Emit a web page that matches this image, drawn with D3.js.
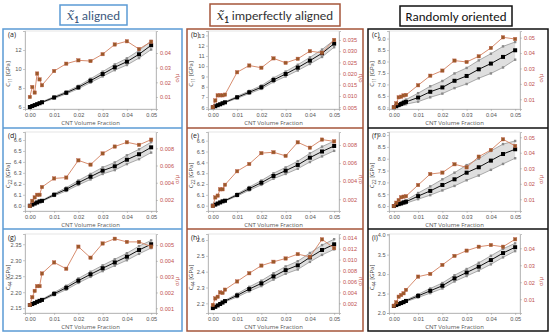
<!DOCTYPE html>
<html><head><meta charset="utf-8">
<script src="https://cdn.jsdelivr.net/npm/d3@7"></script>
<style>
html,body{margin:0;padding:0;background:#fff;}
svg{display:block;font-family:"Open Sans","Liberation Sans",Arial,sans-serif;}
</style></head>
<body>
<svg id="c" width="550" height="334"></svg>
<script>
// ---------- data ----------
const xVals = [0,0.001,0.002,0.003,0.004,0.005,0.01,0.015,0.02,0.025,0.03,0.035,0.04,0.045,0.05];
const xTicks = [0,0.01,0.02,0.03,0.04,0.05];
const columnTitles = ["aligned","imperfectly aligned","Randomly oriented"];
const panelLabels = ["(a)","(b)","(c)","(d)","(e)","(f)","(g)","(h)","(i)"];
const yLabelSubs = ["11","22","44"];
const xAxisTitle = "CNT Volume Fraction";
const rightTitle = "σ/μ";

// (a) C11, aligned
const meanA  = [6.0,6.1,6.2,6.3,6.4,6.5,7.0,7.5,8.07,8.77,9.47,10.18,10.77,11.55,12.5];
const upperA = [6.0,6.11,6.22,6.33,6.44,6.55,7.1,7.62,8.22,8.97,9.72,10.48,11.12,11.95,12.95];
const lowerA = [6.0,6.09,6.18,6.27,6.36,6.45,6.9,7.38,7.92,8.57,9.22,9.88,10.42,11.15,12.05];
const ratioA = [0.0100,0.0168,0.0130,0.0260,0.0220,0.0180,0.0277,0.0327,0.0350,0.0345,0.0392,0.0458,0.0480,0.0427,0.0477];
// (b) C11, imperfectly aligned
const meanB  = [6.0,6.1,6.2,6.29,6.39,6.48,6.97,7.46,7.95,8.66,9.24,9.86,10.54,11.26,12.2];
const upperB = [6.0,6.11,6.22,6.32,6.43,6.53,7.07,7.59,8.11,8.86,9.48,10.14,10.86,11.62,12.55];
const lowerB = [6.0,6.09,6.18,6.26,6.35,6.43,6.87,7.33,7.79,8.46,9.0,9.58,10.22,10.9,11.85];
const ratioB = [0.0050,0.0080,0.0103,0.0103,0.0103,0.0106,0.0206,0.0236,0.0226,0.0268,0.0248,0.0266,0.0300,0.0293,0.0350];
// (c) C11, random
const meanC  = [6.0,6.05,6.1,6.15,6.2,6.24,6.43,6.68,6.87,7.16,7.37,7.66,7.91,8.2,8.49];
const upperC = [6.0,6.07,6.14,6.21,6.28,6.34,6.62,6.92,7.15,7.48,7.72,8.05,8.34,8.66,8.85];
const lowerC = [6.0,6.03,6.06,6.09,6.12,6.14,6.25,6.44,6.6,6.84,7.02,7.27,7.48,7.74,8.08];
const ratioC = [0.0048,0.0074,0.0113,0.0117,0.0125,0.0128,0.0191,0.0253,0.0286,0.0351,0.0342,0.0379,0.0433,0.0502,0.0491];
// (d) C22, aligned
const meanD  = [6.0,6.01,6.02,6.03,6.04,6.045,6.1,6.15,6.21,6.265,6.32,6.36,6.42,6.47,6.533];
const upperD = [6.0,6.011,6.022,6.033,6.044,6.05,6.11,6.165,6.23,6.29,6.35,6.395,6.46,6.515,6.58];
const lowerD = [6.0,6.009,6.018,6.027,6.036,6.04,6.09,6.135,6.19,6.24,6.29,6.325,6.38,6.425,6.485];
const ratioD = [0.0013,0.0019,0.0023,0.0026,0.0026,0.0035,0.0045,0.0046,0.0066,0.0061,0.0074,0.0082,0.0087,0.0084,0.0090];
// (e) C22, imperfectly aligned
const meanE  = [6.0,6.01,6.02,6.03,6.04,6.046,6.099,6.157,6.212,6.274,6.323,6.376,6.443,6.5,6.551];
const upperE = [6.0,6.011,6.022,6.033,6.044,6.051,6.109,6.172,6.232,6.299,6.353,6.411,6.483,6.545,6.596];
const lowerE = [6.0,6.009,6.018,6.027,6.036,6.041,6.089,6.142,6.192,6.249,6.293,6.341,6.403,6.455,6.506];
const ratioE = [0.00126,0.0022,0.0024,0.0031,0.0031,0.0036,0.0051,0.0059,0.0071,0.0072,0.0068,0.0083,0.0077,0.0086,0.0084];
// (f) C22, random
const meanF  = [6.0,6.04,6.08,6.11,6.15,6.18,6.42,6.64,6.89,7.13,7.41,7.64,7.92,8.2,8.4];
const upperF = [6.0,6.05,6.1,6.15,6.2,6.24,6.55,6.83,7.13,7.41,7.73,8.0,8.33,8.62,8.75];
const lowerF = [6.0,6.03,6.06,6.08,6.1,6.12,6.29,6.46,6.66,6.85,7.09,7.29,7.53,7.78,8.02];
const ratioF = [0.0057,0.0078,0.0095,0.0113,0.0117,0.0120,0.0192,0.0263,0.0272,0.0326,0.0306,0.0375,0.0418,0.0487,0.0444];
// (g) C44, aligned
const meanG  = [2.16,2.163,2.166,2.17,2.173,2.176,2.195,2.214,2.236,2.256,2.275,2.293,2.311,2.332,2.35];
const upperG = [2.16,2.1635,2.167,2.171,2.1745,2.178,2.199,2.22,2.243,2.264,2.284,2.303,2.322,2.344,2.362];
const lowerG = [2.16,2.1625,2.165,2.169,2.1715,2.174,2.191,2.208,2.229,2.248,2.266,2.283,2.3,2.32,2.338];
const ratioG = [0.0012,0.0017,0.0021,0.0024,0.0024,0.0032,0.0039,0.0035,0.0049,0.0042,0.0051,0.0054,0.0052,0.0052,0.0049];
// (h) C44, imperfectly aligned
const meanH  = [2.17,2.178,2.187,2.196,2.205,2.214,2.25,2.29,2.326,2.37,2.41,2.44,2.49,2.537,2.573];
const upperH = [2.17,2.179,2.189,2.199,2.209,2.219,2.26,2.304,2.343,2.39,2.433,2.466,2.518,2.568,2.605];
const lowerH = [2.17,2.177,2.185,2.193,2.201,2.209,2.24,2.276,2.309,2.35,2.387,2.414,2.462,2.506,2.541];
const ratioH = [0.0017,0.0029,0.0032,0.0040,0.0039,0.0045,0.0060,0.0075,0.0089,0.0096,0.0102,0.0110,0.0105,0.0137,0.0121];
// (i) C44, random
const meanI  = [2.18,2.205,2.23,2.255,2.28,2.31,2.44,2.57,2.70,2.89,3.04,3.19,3.36,3.54,3.69];
const upperI = [2.18,2.21,2.24,2.27,2.3,2.33,2.48,2.63,2.77,2.97,3.13,3.29,3.47,3.65,3.79];
const lowerI = [2.18,2.2,2.22,2.24,2.26,2.29,2.4,2.51,2.63,2.81,2.95,3.09,3.25,3.43,3.59];
const ratioI = [0.0062,0.0082,0.0115,0.0125,0.0135,0.0155,0.0233,0.0249,0.0302,0.0355,0.0386,0.0409,0.0419,0.0409,0.0453];

// tick labels
const leftTicksA = [6,8,10,12];
const leftTicksB = [6,7,8,9,10,11,12,13];
const leftTicksC = [6.0,6.5,7.0,7.5,8.0,8.5,9.0];
const leftTicksD = [6.0,6.1,6.2,6.3,6.4,6.5,6.6];
const leftTicksE = [6.0,6.1,6.2,6.3,6.4,6.5,6.6];
const leftTicksF = [6.0,6.5,7.0,7.5,8.0,8.5,9.0];
const leftTicksG = [2.15,2.20,2.25,2.30,2.35];
const leftTicksH = [2.2,2.3,2.4,2.5,2.6];
const leftTicksI = [2.0,2.5,3.0,3.5,4.0];
const rightTicksA = [0.01,0.02,0.03,0.04];
const rightTicksB = [0.005,0.010,0.015,0.020,0.025,0.030,0.035];
const rightTicksC = [0.01,0.02,0.03,0.04,0.05];
const rightTicksD = [0.002,0.004,0.006,0.008];
const rightTicksE = [0.002,0.004,0.006,0.008];
const rightTicksF = [0.01,0.02,0.03,0.04,0.05];
const rightTicksG = [0.001,0.002,0.003,0.004,0.005];
const rightTicksH = [0.002,0.004,0.006,0.008,0.010,0.012,0.014];
const rightTicksI = [0.01,0.02,0.03,0.04];

// ---------- layout / scale config ----------
const panels = [
 {mean:meanA,upper:upperA,lower:lowerA,ratio:ratioA,lt:leftTicksA,rt:rightTicksA,ld:[5.79,14.0],rd:[0.0018,0.055],lf:"d",rf:".2f"},
 {mean:meanB,upper:upperB,lower:lowerB,ratio:ratioB,lt:leftTicksB,rt:rightTicksB,ld:[5.83,13.43],rd:[0.0042,0.039],lf:"d",rf:".3f"},
 {mean:meanC,upper:upperC,lower:lowerC,ratio:ratioC,lt:leftTicksC,rt:rightTicksC,ld:[5.93,9.33],rd:[0.0037,0.0543],lf:".1f",rf:".2f"},
 {mean:meanD,upper:upperD,lower:lowerD,ratio:ratioD,lt:leftTicksD,rt:rightTicksD,ld:[5.952,6.673],rd:[0.00072,0.00989],lf:".1f",rf:".3f"},
 {mean:meanE,upper:upperE,lower:lowerE,ratio:ratioE,lt:leftTicksE,rt:rightTicksE,ld:[5.951,6.68],rd:[0.0007,0.00944],lf:".1f",rf:".3f"},
 {mean:meanF,upper:upperF,lower:lowerF,ratio:ratioF,lt:leftTicksF,rt:rightTicksF,ld:[5.79,9.13],rd:[0.00245,0.0534],lf:".1f",rf:".2f"},
 {mean:meanG,upper:upperG,lower:lowerG,ratio:ratioG,lt:leftTicksG,rt:rightTicksG,ld:[2.135,2.382],rd:[0.0007,0.0057],lf:".2f",rf:".3f"},
 {mean:meanH,upper:upperH,lower:lowerH,ratio:ratioH,lt:leftTicksH,rt:rightTicksH,ld:[2.139,2.638],rd:[0.00023,0.01468],lf:".1f",rf:".3f"},
 {mean:meanI,upper:upperI,lower:lowerI,ratio:ratioI,lt:leftTicksI,rt:rightTicksI,ld:[2.0,4.03],rd:[0.0019,0.0484],lf:".1f",rf:".2f"}
];

const colBox = [[3,182],[187,363],[368,548]];
const colStroke = ["#5b9bd5","#a5553a","#111"];
const plotX = [[25,156],[208,339],[389,520]];
const rowY = [[31,109],[132,211],[234,313]];
const boxTop = 29, boxBottom = 331, seps = [128,229];
const RED = "#c0504d";

const svg = d3.select("#c");

// column frames
colBox.forEach((c,i)=>{
  svg.append("rect").attr("x",c[0]).attr("y",boxTop).attr("width",c[1]-c[0]).attr("height",boxBottom-boxTop)
    .attr("fill","none").attr("stroke",colStroke[i]).attr("stroke-width",1.5);
  seps.forEach(s=>svg.append("line").attr("x1",c[0]).attr("x2",c[1]).attr("y1",s).attr("y2",s)
    .attr("stroke",colStroke[i]).attr("stroke-width",1.5));
});

// title boxes
const titleBoxes = [[60,5,67,20],[210,4,130,22],[400,6,112,20]];
const titleColors = ["#3d5a80","#333","#111"];
titleBoxes.forEach((b,i)=>{
  svg.append("rect").attr("x",b[0]).attr("y",b[1]).attr("width",b[2]).attr("height",b[3])
    .attr("fill","#fff").attr("stroke",colStroke[i]).attr("stroke-width",1.5);
  const t = svg.append("text").attr("x",b[0]+b[2]/2).attr("y",b[1]+b[3]/2+4.5)
    .attr("text-anchor","middle").attr("font-size",13).attr("fill",titleColors[i])
    .attr("font-family","Calibri,Carlito,'Open Sans',sans-serif");
  if(i<2){
    t.append("tspan").attr("font-style","italic").attr("font-family","'DejaVu Serif',serif").text("x\u0303");
    t.append("tspan").attr("font-size",9).attr("font-weight","bold").attr("dy",3).text("1");
    t.append("tspan").attr("dy",-3).text(" "+columnTitles[i]);
  } else {
    t.text(columnTitles[i]);
  }
});

const fmtX = d3.format(".2f");

panels.forEach((p,k)=>{
  const col = k%3, row = Math.floor(k/3);
  const [x0,x1] = plotX[col], [y0,y1] = rowY[row];
  const x = d3.scaleLinear().domain([-0.002,0.052]).range([x0,x1]);
  const yL = d3.scaleLinear().domain(p.ld).range([y1,y0]);
  const yR = d3.scaleLinear().domain(p.rd).range([y1,y0]);
  const g = svg.append("g");

  // frame
  g.append("rect").attr("x",x0).attr("y",y0).attr("width",x1-x0).attr("height",y1-y0)
    .attr("fill","none").attr("stroke","#d4d4d4").attr("stroke-width",0.6);

  const pts = xVals.map((v,i)=>({x:v,m:p.mean[i],u:p.upper[i],l:p.lower[i],r:p.ratio[i]}));

  // band
  g.append("path").datum(pts)
    .attr("d",d3.area().x(d=>x(d.x)).y0(d=>yL(d.l)).y1(d=>yL(d.u)))
    .attr("fill","#d9d9d9").attr("opacity",0.85);
  ["u","l"].forEach(key=>{
    g.append("path").datum(pts).attr("d",d3.line().x(d=>x(d.x)).y(d=>yL(d[key])))
      .attr("fill","none").attr("stroke","#8a8a8a").attr("stroke-width",0.7);
    g.selectAll(null).data(pts).join("rect")
      .attr("x",d=>x(d.x)-1.2).attr("y",d=>yL(d[key])-1.2).attr("width",2.4).attr("height",2.4)
      .attr("fill","#8a8a8a");
  });
  // mean
  g.append("path").datum(pts).attr("d",d3.line().x(d=>x(d.x)).y(d=>yL(d.m)))
    .attr("fill","none").attr("stroke","#111").attr("stroke-width",1);
  g.selectAll(null).data(pts).join("rect")
    .attr("x",d=>x(d.x)-2).attr("y",d=>yL(d.m)-2).attr("width",4).attr("height",4).attr("fill","#000");
  // ratio
  g.append("path").datum(pts).attr("d",d3.line().x(d=>x(d.x)).y(d=>yR(d.r)))
    .attr("fill","none").attr("stroke","#d2805f").attr("stroke-width",0.9);
  g.selectAll(null).data(pts).join("rect")
    .attr("x",d=>x(d.x)-1.7).attr("y",d=>yR(d.r)-1.7).attr("width",3.4).attr("height",3.4)
    .attr("fill","#9a5a2a").attr("stroke","#c0604a").attr("stroke-width",0.4);

  // axes
  const ax = (sel,color)=>{
    sel.selectAll("text").attr("font-size",5.6).attr("fill",color);
    sel.selectAll("line").attr("stroke","#999").attr("stroke-width",0.5);
    sel.select(".domain").attr("stroke","#999").attr("stroke-width",0.6);
  };
  g.append("g").attr("transform",`translate(0,${y1})`)
    .call(d3.axisBottom(x).tickValues(xTicks).tickFormat(fmtX).tickSize(2).tickPadding(2))
    .call(s=>ax(s,"#555"));
  g.append("g").attr("transform",`translate(${x0},0)`)
    .call(d3.axisLeft(yL).tickValues(p.lt).tickFormat(d3.format(p.lf)).tickSize(2).tickPadding(1.5))
    .call(s=>ax(s,"#555"));
  g.append("g").attr("transform",`translate(${x1},0)`)
    .call(d3.axisRight(yR).tickValues(p.rt).tickFormat(d3.format(p.rf)).tickSize(2).tickPadding(2))
    .call(s=>ax(s,RED));

  // labels
  g.append("text").attr("x",(x0+x1)/2).attr("y",y1+16).attr("text-anchor","middle")
    .attr("font-size",6).attr("fill","#555").text(xAxisTitle);
  g.append("text").attr("x",x0-17).attr("y",y0+6).attr("font-size",7).attr("fill","#222").text(panelLabels[k]);
  const yl = g.append("text").attr("transform",`translate(${x0-15},${(y0+y1)/2+4}) rotate(-90)`)
    .attr("text-anchor","middle").attr("font-size",6).attr("fill","#444");
  yl.append("tspan").text("C");
  yl.append("tspan").attr("font-size",4.5).attr("dy",1.5).text(yLabelSubs[row]);
  yl.append("tspan").attr("dy",-1.5).text(" [GPa]");
  g.append("text").attr("transform",`translate(${x1+23},${(y0+y1)/2+8}) rotate(-90)`)
    .attr("text-anchor","middle").attr("font-size",5.5).attr("fill",RED).text(rightTitle);
});
</script>
</body></html>
